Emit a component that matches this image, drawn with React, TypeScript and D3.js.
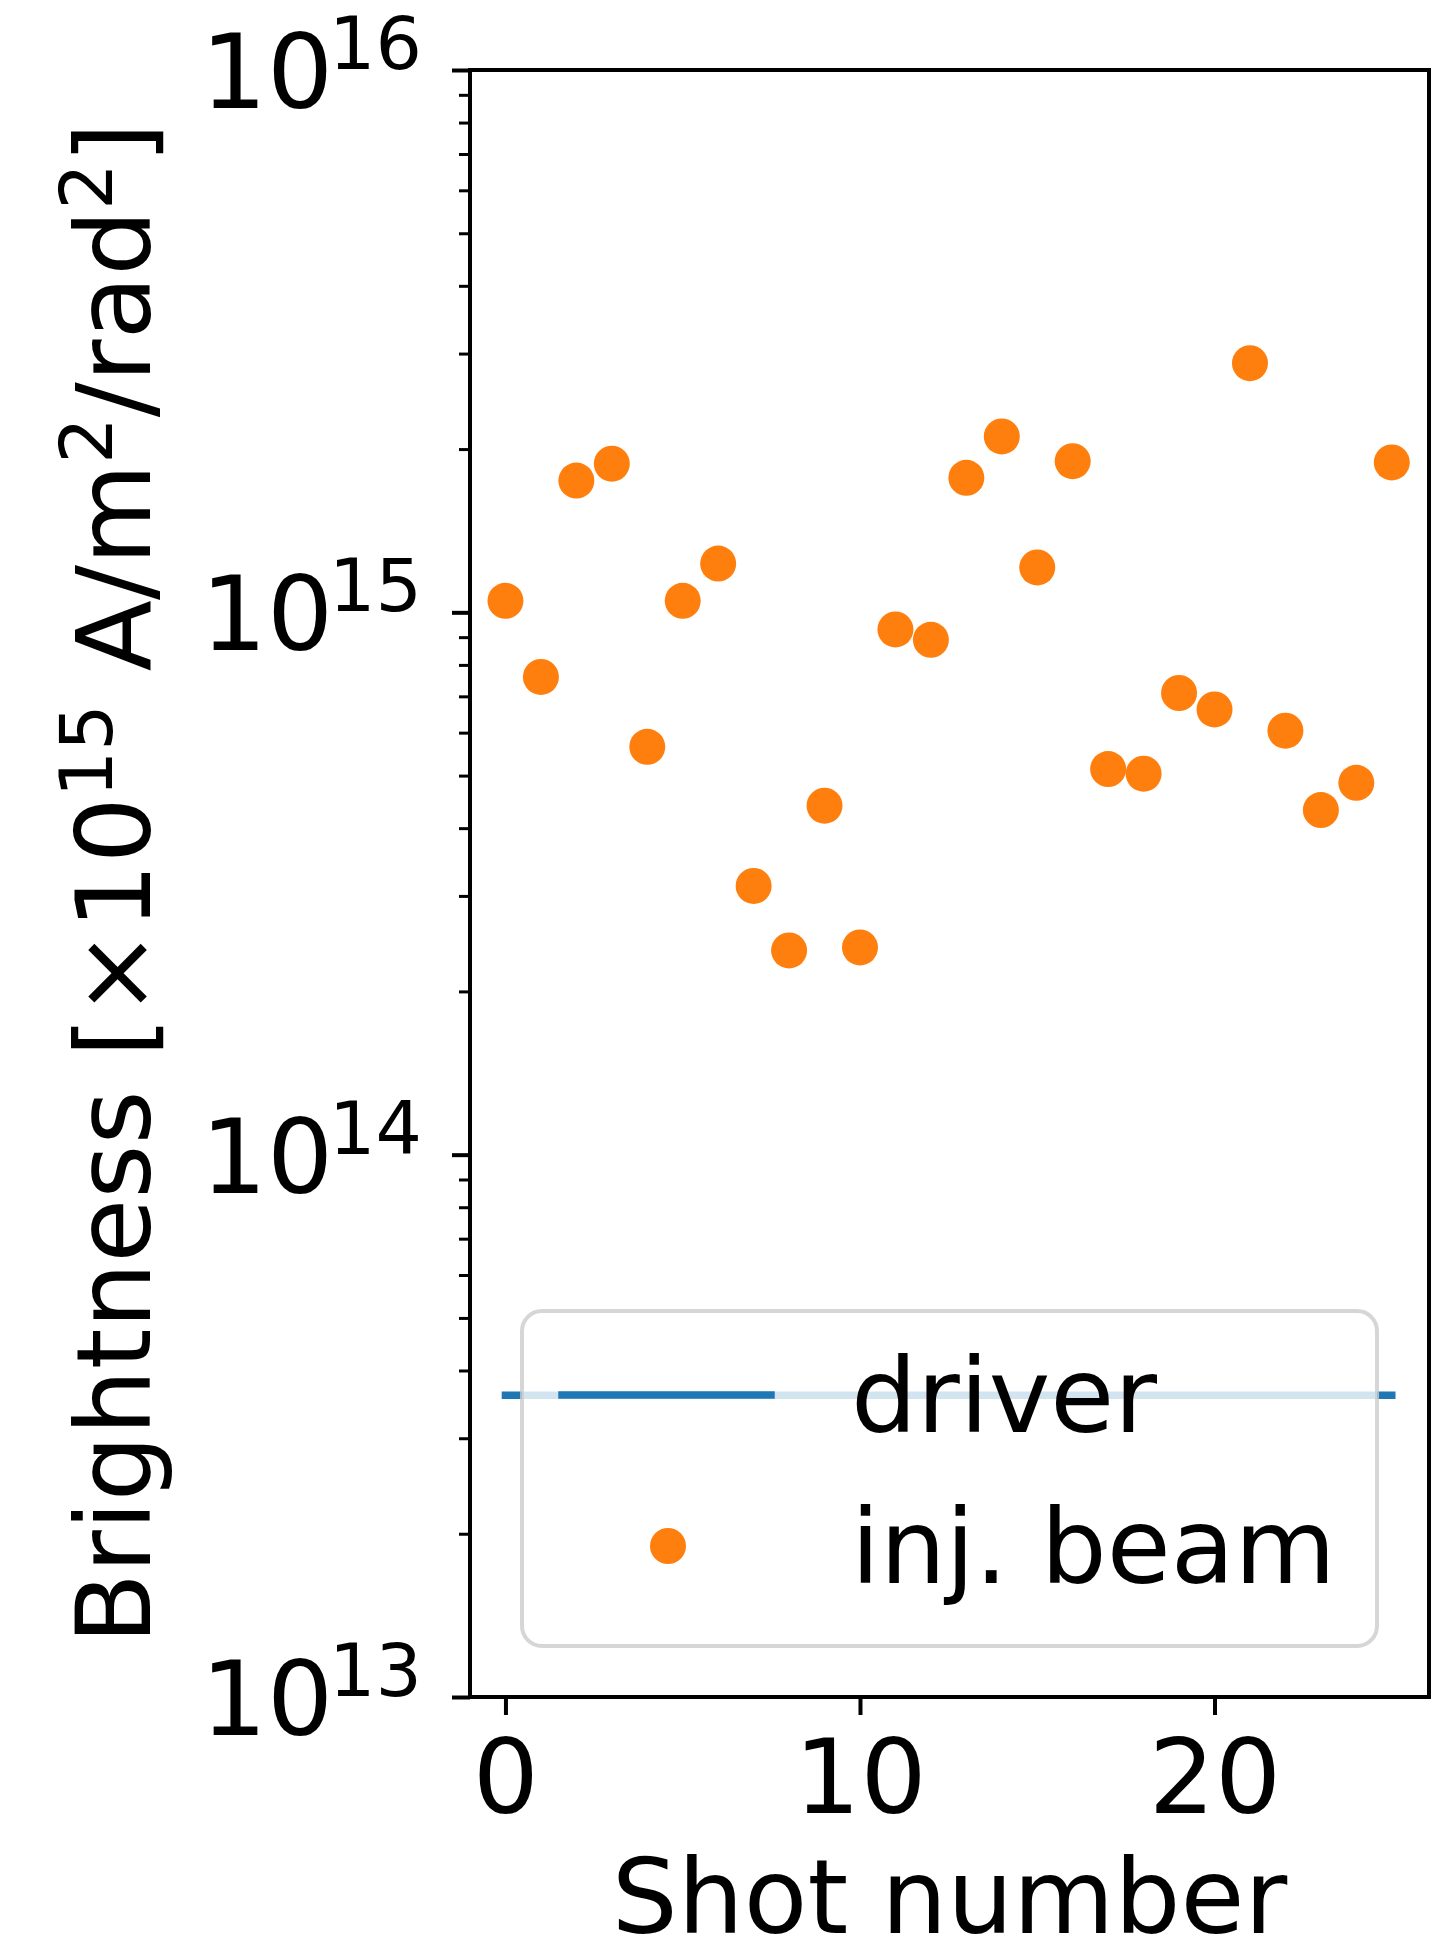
import React, { useEffect, useRef } from 'react';
import * as d3 from 'd3';

// shot numbers and injected-beam brightness (A/m^2/rad^2)
const shots = [0, 1, 2, 3, 4, 5, 6, 7, 8, 9, 10, 11, 12, 13, 14, 15, 16, 17, 18, 19, 20, 21, 22, 23, 24, 25];
const injBeam = [
  1.05e15, 7.6e14, 1.75e15, 1.88e15, 5.65e14, 1.05e15, 1.23e15, 3.13e14, 2.38e14, 4.4e14,
  2.41e14, 9.3e14, 8.9e14, 1.77e15, 2.11e15, 1.21e15, 1.9e15, 5.14e14, 5.04e14, 7.1e14,
  6.62e14, 2.88e15, 6.05e14, 4.32e14, 4.85e14, 1.89e15,
];
const driverShots = [0, 25];
const driverValue = [3.6e13, 3.6e13];
const xTicks = [0, 10, 20];
const yMajor = [1e13, 1e14, 1e15, 1e16];
const yExponents = ['13', '14', '15', '16'];
const legendLabels = ['driver', 'inj. beam'];

const BLUE = '#1f77b4';
const ORANGE = '#ff7f0e';
const FONT = 'DejaVu Sans';

const App = () => {
  const ref = useRef<SVGSVGElement>(null);

  useEffect(() => {
    const svg = d3.select(ref.current);
    svg.selectAll('*').remove();

    const left = 470, right = 1429, top = 70, bottom = 1697;
    const x = d3.scaleLinear().domain([-1, 26.05]).range([left, right]);
    const y = d3.scaleLog().domain([1e13, 1e16]).range([bottom, top]);

    // scatter points
    svg.append('g').selectAll('circle').data(shots).join('circle')
      .attr('cx', (d) => x(d))
      .attr('cy', (d, i) => y(injBeam[i]))
      .attr('r', 18)
      .attr('fill', ORANGE);

    // driver line
    const line = d3.line<number>().x((d) => x(d)).y((d, i) => y(driverValue[i]));
    svg.append('path').datum(driverShots)
      .attr('d', line)
      .attr('fill', 'none')
      .attr('stroke', BLUE)
      .attr('stroke-width', 7.5)
      .attr('stroke-linecap', 'square');

    // minor y ticks
    const minor: number[] = [];
    [1e13, 1e14, 1e15].forEach((dec) => {
      [2, 3, 4, 5, 6, 7, 8, 9].forEach((m) => minor.push(dec * m));
    });
    const yMinorAxis = svg.append('g').attr('transform', `translate(${left},0)`)
      .call(d3.axisLeft(y).tickValues(minor).tickSize(11).tickFormat(() => ''));
    yMinorAxis.select('.domain').remove();
    yMinorAxis.selectAll('line').attr('stroke', '#000').attr('stroke-width', 3);

    // major y ticks
    const yAxis = svg.append('g').attr('transform', `translate(${left},0)`)
      .call(d3.axisLeft(y).tickValues(yMajor).tickSize(18).tickFormat(() => ''));
    yAxis.select('.domain').remove();
    yAxis.selectAll('line').attr('stroke', '#000').attr('stroke-width', 4);

    // y tick labels 10^n
    const yl = svg.append('g').selectAll('text').data(yMajor).join('text')
      .attr('x', 422)
      .attr('y', (d) => y(d) + 38)
      .attr('text-anchor', 'end')
      .style('font-family', FONT)
      .style('font-size', '104px')
      .attr('fill', '#000');
    yl.append('tspan').text('10');
    yl.append('tspan').attr('dx', -4).attr('dy', -39).style('font-size', '73px').text((d, i) => yExponents[i]);

    // x axis
    const xAxis = svg.append('g').attr('transform', `translate(0,${bottom})`)
      .call(d3.axisBottom(x).tickValues(xTicks).tickSize(18).tickFormat(d3.format('d')));
    xAxis.select('.domain').remove();
    xAxis.selectAll('line').attr('stroke', '#000').attr('stroke-width', 4);
    xAxis.selectAll('text')
      .attr('y', 116).attr('dy', 0)
      .attr('fill', '#000')
      .style('font-family', FONT)
      .style('font-size', '104px');

    // frame
    svg.append('rect')
      .attr('x', left).attr('y', top)
      .attr('width', right - left).attr('height', bottom - top)
      .attr('fill', 'none')
      .attr('stroke', '#000')
      .attr('stroke-width', 4);

    // axis labels
    svg.append('text')
      .attr('x', (left + right) / 2)
      .attr('y', 1933)
      .attr('text-anchor', 'middle')
      .style('font-family', FONT)
      .style('font-size', '104px')
      .text('Shot number');

    const ylab = svg.append('text')
      .attr('transform', `translate(150,${(top + bottom) / 2}) rotate(-90)`)
      .attr('text-anchor', 'middle')
      .style('font-family', FONT)
      .style('font-size', '104px');
    const parts: [string, boolean][] = [
      ['Brightness [×10', false], ['15', true], [' A/m', false], ['2', true],
      ['/rad', false], ['2', true], [']', false],
    ];
    let up = false;
    parts.forEach(([t, sup]) => {
      const ts = ylab.append('tspan').text(t);
      if (sup) { ts.attr('dy', -38).style('font-size', '73px'); up = true; }
      else if (up) { ts.attr('dy', 38); up = false; }
    });

    // legend
    const lg = svg.append('g');
    lg.append('rect')
      .attr('x', 522).attr('y', 1311)
      .attr('width', 855).attr('height', 335)
      .attr('rx', 20).attr('ry', 20)
      .attr('fill', '#fff').attr('fill-opacity', 0.8)
      .attr('stroke', '#ccc').attr('stroke-opacity', 0.8)
      .attr('stroke-width', 4);
    lg.append('line')
      .attr('x1', 562).attr('x2', 771)
      .attr('y1', 1395).attr('y2', 1395)
      .attr('stroke', BLUE).attr('stroke-width', 7.5)
      .attr('stroke-linecap', 'square');
    lg.append('circle')
      .attr('cx', 668).attr('cy', 1546).attr('r', 18).attr('fill', ORANGE);
    lg.selectAll('text.leg').data(legendLabels).join('text').attr('class', 'leg')
      .attr('x', 851)
      .attr('y', (d, i) => (i === 0 ? 1432 : 1583))
      .style('font-family', FONT)
      .style('font-size', '104px')
      .text((d) => d);
  }, []);

  return (
    <svg ref={ref} width={1450} height={1945}
      style={{ position: 'absolute', left: 0, top: 0, background: '#fff' }} />
  );
};

export default App;
